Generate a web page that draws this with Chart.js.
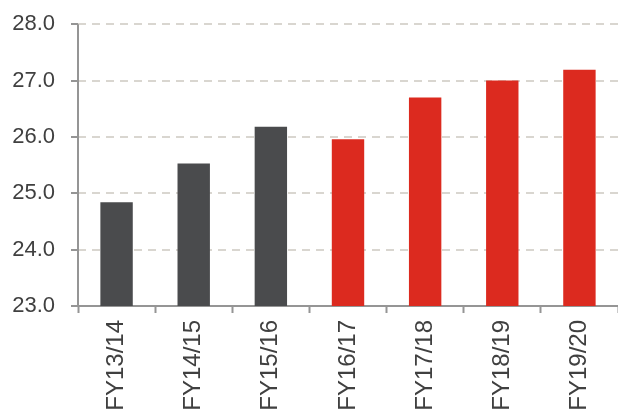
<!DOCTYPE html>
<html>
<head>
<meta charset="utf-8">
<script src="https://cdn.jsdelivr.net/npm/chart.js@4/dist/chart.umd.min.js"></script>
<style>
  html, body { margin: 0; padding: 0; background: #fff; overflow: hidden; }
  #wrap { position: relative; width: 618px; height: 410px; overflow: hidden; }
  #chart { display: block; margin-top: -5px; }
</style>
</head>
<body>
<div id="wrap"><canvas id="chart" width="618" height="415"></canvas></div>
<script>
// fiscal years and values
var years = ["FY13/14", "FY14/15", "FY15/16", "FY16/17", "FY17/18", "FY18/19", "FY19/20"];
var values = [24.84, 25.53, 26.18, 25.96, 26.70, 27.00, 27.19];
var actualCount = 3; // first three are grey, the rest red

var yMin = 23, yMax = 28, yStep = 1;

var grey = "#4a4b4d";
var red = "#dc2a1f";
var axisGrey = "#959595";
var txt = "#404040";
var fam = "'Liberation Sans', Arial, sans-serif";

var colors = values.map(function (v, i) { return i < actualCount ? grey : red; });

// solid y axis line (the border dash only goes on the grid lines)
var yAxisLine = {
  id: "yAxisLine",
  afterDatasetsDraw: function (c) {
    var a = c.chartArea, g = c.ctx;
    g.save();
    g.strokeStyle = axisGrey;
    g.lineWidth = 2;
    g.setLineDash([]);
    g.beginPath();
    g.moveTo(a.left, a.top);
    g.lineTo(a.left, a.bottom);
    g.stroke();
    g.restore();
  }
};

var ctx = document.getElementById("chart").getContext("2d");
var chart = new Chart(ctx, {
  type: "bar",
  data: {
    labels: years,
    datasets: [{
      data: values,
      backgroundColor: colors,
      borderWidth: 0,
      barPercentage: 0.42,
      categoryPercentage: 1.0
    }]
  },
  options: {
    responsive: false,
    animation: false,
    layout: { padding: { top: 18, right: 0, bottom: 0, left: 0 } },
    plugins: { legend: { display: false }, tooltip: { enabled: false } },
    scales: {
      x: {
        offset: true,
        grid: {
          offset: true,
          drawOnChartArea: false,
          drawTicks: true,
          tickLength: 7,
          tickColor: axisGrey,
          tickWidth: 2
        },
        border: { display: true, color: axisGrey, width: 2 },
        ticks: {
          color: txt,
          font: { family: fam, size: 24 },
          maxRotation: 90,
          minRotation: 90,
          padding: 7,
          autoSkip: false
        },
        afterFit: function (scale) { scale.height = 104; }
      },
      y: {
        min: yMin,
        max: yMax,
        grid: {
          drawTicks: true,
          tickLength: 7,
          tickColor: axisGrey,
          tickWidth: 2,
          tickBorderDash: [],
          lineWidth: 2,
          color: function (c) {
            return (c.tick && c.tick.value === yMin) ? "rgba(0,0,0,0)" : "#d9d6d0";
          }
        },
        border: { display: false, dash: [8, 6] },
        ticks: {
          stepSize: yStep,
          color: txt,
          font: { family: fam, size: 22 },
          padding: 16,
          callback: function (v) { return Number(v).toFixed(1); }
        },
        afterFit: function (scale) { scale.width = 78; }
      }
    }
  },
  plugins: [yAxisLine]
});
</script>
</body>
</html>
